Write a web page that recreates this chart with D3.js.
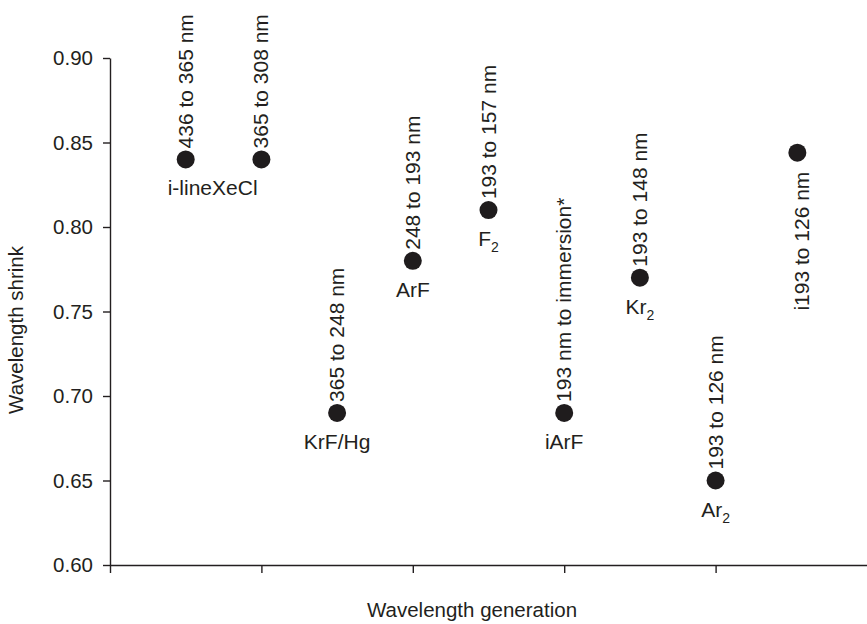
<!DOCTYPE html>
<html lang="en">
<head>
<meta charset="UTF-8">
<title>Wavelength shrink</title>
<style>
  body { margin: 0; background: #fff; }
  svg text { font-family: "Liberation Sans", Arial, Helvetica, sans-serif; fill: #231f20; }
</style>
</head>
<body>
<svg id="chart" width="867" height="624"></svg>
<script src="https://d3js.org/d3.v7.min.js"></script>
<script>
// data
var positions = [0.5, 1, 1.5, 2, 2.5, 3, 3.5, 4, 4.54];
var shrink = [0.84, 0.84, 0.69, 0.78, 0.81, 0.69, 0.77, 0.65, 0.844];
var transitions = ["436 to 365 nm", "365 to 308 nm", "365 to 248 nm", "248 to 193 nm",
  "193 to 157 nm", "193 nm to immersion*", "193 to 148 nm", "193 to 126 nm", "i193 to 126 nm"];
// light source name, with optional subscript
var sources = [["i-lineXeCl", ""], ["", ""], ["KrF/Hg", ""], ["ArF", ""], ["F", "2"],
  ["iArF", ""], ["Kr", "2"], ["Ar", "2"], ["", ""]];
var yTicks = [0.60, 0.65, 0.70, 0.75, 0.80, 0.85, 0.90];
var xTicks = [0, 1, 2, 3, 4];

var svg = d3.select("#chart");
var x = d3.scaleLinear().domain([0, 5]).range([110, 867]);
var y = d3.scaleLinear().domain([0.60, 0.90]).range([565, 58]);

// axes
var yAxis = svg.append("g")
  .attr("transform", "translate(110,0)")
  .call(d3.axisLeft(y).tickValues(yTicks).tickFormat(d3.format(".2f")).tickSize(7).tickSizeOuter(0).tickPadding(10));
var xAxis = svg.append("g")
  .attr("transform", "translate(0,565)")
  .call(d3.axisBottom(x).tickValues(xTicks).tickFormat("").tickSize(8).tickSizeOuter(0));

svg.selectAll(".domain, .tick line").attr("stroke", "#231f20").attr("stroke-width", 1.4);
yAxis.selectAll("text").attr("font-size", 20.5).attr("fill", "#231f20");

// axis titles
svg.append("text")
  .attr("x", 472).attr("y", 617)
  .attr("text-anchor", "middle")
  .attr("font-size", 20.5)
  .text("Wavelength generation");
svg.append("text")
  .attr("transform", "translate(23,330) rotate(-90)")
  .attr("text-anchor", "middle")
  .attr("font-size", 20.5)
  .text("Wavelength shrink");

var pts = positions.map(function(p, i) {
  return { x: x(p), y: y(shrink[i]), t: transitions[i], s: sources[i], last: i == positions.length - 1, first: i == 0 };
});

// points
svg.selectAll("circle.pt").data(pts).enter().append("circle")
  .attr("class", "pt")
  .attr("cx", function(d) { return d.x; })
  .attr("cy", function(d) { return d.y; })
  .attr("r", 9)
  .attr("fill", "#1f1c1d");

// rotated transition labels
svg.selectAll("text.tr").data(pts).enter().append("text")
  .attr("class", "tr")
  .attr("font-size", 21)
  .attr("text-anchor", function(d) { return d.last ? "end" : "start"; })
  .attr("transform", function(d) {
    return d.last ? "translate(" + (d.x + 12) + "," + (d.y + 19) + ") rotate(-90)"
                  : "translate(" + (d.x + 7) + "," + (d.y - 11) + ") rotate(-90)";
  })
  .text(function(d) { return d.t; });

// source names under the points
var names = svg.selectAll("text.src").data(pts.filter(function(d) { return d.s[0]; })).enter().append("text")
  .attr("class", "src")
  .attr("font-size", 21)
  .attr("x", function(d) { return d.first ? d.x - 18 : d.x; })
  .attr("y", function(d) { return d.y + 36; })
  .attr("text-anchor", function(d) { return d.first ? "start" : "middle"; });
names.append("tspan").text(function(d) { return d.s[0]; });
names.filter(function(d) { return d.s[1]; }).append("tspan")
  .attr("font-size", 14)
  .attr("dy", 6)
  .text(function(d) { return d.s[1]; });
</script>
</body>
</html>
